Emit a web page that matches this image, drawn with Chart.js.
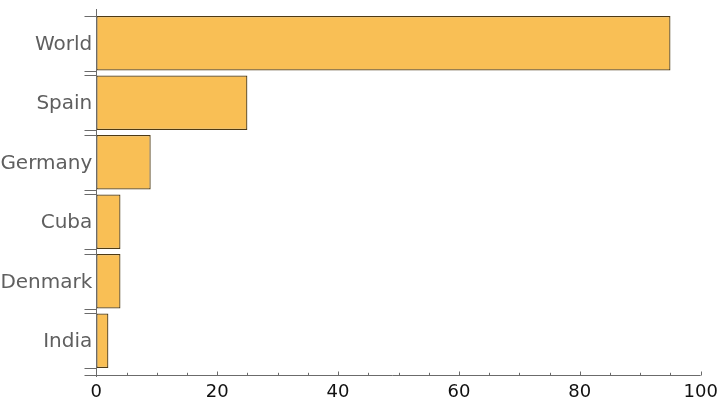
<!DOCTYPE html>
<html>
<head>
<meta charset="utf-8">
<script src="https://cdn.jsdelivr.net/npm/chart.js@4/dist/chart.umd.min.js"></script>
<style>
    html, body { margin: 0; padding: 0; background: #fff; }
    #wrap { width: 720px; height: 406px; position: relative; }
</style>
</head>
<body>
<div id="wrap"><canvas id="barChart"></canvas></div>
<script>
// Data
const countries = ['World', 'Spain', 'Germany', 'Cuba', 'Denmark', 'India'];
const values = [95, 25, 9, 4, 4, 2];
const xTicks = [0, 20, 40, 60, 80, 100];
const xMinorStep = 5;

const axisColor = '#6b6b6b';

// Draws the Mathematica-style frame: axis lines, major/minor ticks, bar-edge ticks
const frameAxes = {
    id: 'frameAxes',
    afterDatasetsDraw(chart) {
        const ctx = chart.ctx;
        const xs = chart.scales.x;
        const area = chart.chartArea;
        const axisY = Math.round(area.bottom + 4.5) + 0.5;
        const axisX = Math.round(xs.getPixelForValue(0)) + 0.5;

        ctx.save();
        ctx.strokeStyle = axisColor;
        ctx.lineWidth = 1;
        ctx.beginPath();
        // left axis
        ctx.moveTo(axisX, area.top - 4.5);
        ctx.lineTo(axisX, axisY + 1.5);
        // bottom axis
        ctx.moveTo(axisX - 12, axisY);
        ctx.lineTo(xs.getPixelForValue(100), axisY);

        // x ticks, pointing up into the plot
        for (let v = 0; v <= 100; v += xMinorStep) {
            const px = Math.round(xs.getPixelForValue(v)) + 0.5;
            const len = xTicks.includes(v) ? 4 : 2.7;
            ctx.moveTo(px, axisY);
            ctx.lineTo(px, axisY - len);
        }

        // y ticks at each bar edge, pointing left
        chart.getDatasetMeta(0).data.forEach((bar) => {
            const top = Math.round(bar.y - bar.height / 2) + 0.5;
            const bottom = Math.round(bar.y + bar.height / 2) + 0.5;
            ctx.moveTo(axisX - 12, top);
            ctx.lineTo(axisX, top);
            ctx.moveTo(axisX - 12, bottom);
            ctx.lineTo(axisX, bottom);
        });
        ctx.stroke();
        ctx.restore();
    }
};

const ctx = document.getElementById('barChart').getContext('2d');
const chart = new Chart(ctx, {
    type: 'bar',
    data: {
        labels: countries,
        datasets: [{
            data: values,
            backgroundColor: '#f9bf55',
            borderColor: '#4e3a14',
            borderWidth: 1.25,
            borderSkipped: false,
            barPercentage: 0.916,
            categoryPercentage: 1
        }]
    },
    options: {
        indexAxis: 'y',
        responsive: true,
        maintainAspectRatio: false,
        animation: false,
        layout: {
            padding: { top: 13.5, right: 19.3, bottom: 0, left: 0 }
        },
        plugins: {
            legend: { display: false },
            tooltip: { enabled: false }
        },
        scales: {
            x: {
                type: 'linear',
                min: 0,
                max: 100,
                grid: { display: false, drawTicks: false },
                border: { display: false },
                ticks: {
                    stepSize: 20,
                    padding: 11,
                    color: '#111',
                    font: { family: 'DejaVu Sans', size: 18 },
                    maxRotation: 0
                },
                afterFit: (scale) => {
                    scale.height = 35.5;
                    scale.paddingLeft = 0;
                    scale.paddingRight = 0;
                }
            },
            y: {
                grid: { display: false, drawTicks: false },
                border: { display: false },
                ticks: {
                    padding: 4,
                    labelOffset: 1.5,
                    color: '#5f5f5f',
                    font: { family: 'DejaVu Sans', size: 20 }
                },
                afterFit: (scale) => {
                    scale.width = 96.3;
                    scale.paddingTop = 0;
                    scale.paddingBottom = 0;
                }
            }
        }
    },
    plugins: [frameAxes]
});
</script>
</body>
</html>
